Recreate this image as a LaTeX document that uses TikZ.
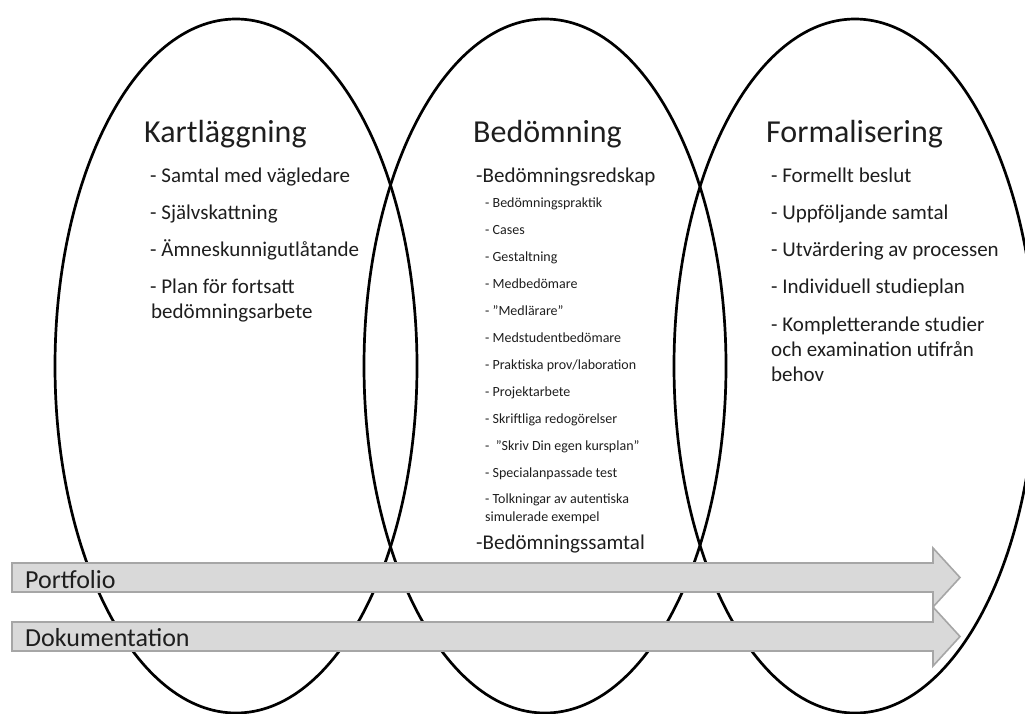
\documentclass[tikz,border=0pt]{standalone}
\usepackage{fontspec}
\setmainfont{Carlito}
\usetikzlibrary{shapes.geometric}
\definecolor{txt}{HTML}{1E1E1E}
\definecolor{arrfill}{HTML}{D9D9D9}
\definecolor{arrline}{HTML}{A6A6A6}
\begin{document}
\begin{tikzpicture}[x=1pt,y=-1pt,
  ring/.style={draw=black,line width=2.7pt,ellipse,minimum width=362pt,minimum height=694pt,inner sep=0pt},
  band/.style={fill=arrfill,draw=arrline,line width=1.6pt,line join=miter},
  title/.style={anchor=base west,text=txt,font=\fontsize{32}{38}\selectfont,inner sep=0pt},
  item/.style={anchor=base west,text=txt,font=\fontsize{21}{25}\selectfont,inner sep=0pt},
  sub/.style={anchor=base west,text=txt,font=\fontsize{14}{18}\selectfont,inner sep=0pt},
  bandlabel/.style={anchor=base west,text=txt,font=\fontsize{26}{30}\selectfont,inner sep=0pt}]
\useasboundingbox (0,0) rectangle (1025,713);
% ellipses
\node[ring] (e1) at (236,366) {};
\node[ring] (e2) at (545,366) {};
\node[ring] (e3) at (855,366) {};
% arrows
\draw[band] (12,563) -- (933,563) -- (933,548) -- (960,577.5) -- (933,607) -- (933,592) -- (12,592) -- cycle;
\draw[band] (12,622) -- (933,622) -- (933,607) -- (960,636.5) -- (933,666) -- (933,651) -- (12,651) -- cycle;
\node[bandlabel] (pf) at (25,588) {Portfolio};
\node[bandlabel] (dk) at (25,646) {Dokumentation};
% left column
\node[title] (t1) at (144,142) {Kartläggning};
\node[item] (l1) at (150,182) {- Samtal med vägledare};
\node[item] (l2) at (150,219) {- Självskattning};
\node[item] (l3) at (150,256) {- Ämneskunnigutlåtande};
\node[item] (l4) at (150,293) {- Plan för fortsatt};
\node[item] (l4b) at (151,318) {bedömningsarbete};
% middle column
\node[title] (t2) at (473,142) {Bedömning};
\node[item] (m0) at (476,182) {-Bedömningsredskap};
\node[sub] (s1) at (485,207) {- Bedömningspraktik};
\node[sub] (s2) at (485,234) {- Cases};
\node[sub] (s3) at (485,261) {- Gestaltning};
\node[sub] (s4) at (485,288) {- Medbedömare};
\node[sub] (s5) at (485,315) {- ”Medlärare”};
\node[sub] (s6) at (485,342) {- Medstudentbedömare};
\node[sub] (s7) at (485,369) {- Praktiska prov/laboration};
\node[sub] (s8) at (485,396) {- Projektarbete};
\node[sub] (s9) at (485,423) {- Skriftliga redogörelser};
\node[sub] (s10) at (485,450) {-\ \ ”Skriv Din egen kursplan”};
\node[sub] (s11) at (485,477) {- Specialanpassade test};
\node[sub] (s12) at (485,503) {- Tolkningar av autentiska};
\node[sub] (s12b) at (485,521) {simulerade exempel};
\node[item] (m1) at (476,549) {-Bedömningssamtal};
% right column
\node[title] (t3) at (766,142) {Formalisering};
\node[item] (r1) at (771,182) {- Formellt beslut};
\node[item] (r2) at (771,219) {- Uppföljande samtal};
\node[item] (r3) at (771,256) {- Utvärdering av processen};
\node[item] (r4) at (771,293) {- Individuell studieplan};
\node[item] (r5) at (771,331) {- Kompletterande studier};
\node[item] (r5b) at (771,356) {och examination utifrån};
\node[item] (r5c) at (771,381) {behov};
\end{tikzpicture}
\end{document}
